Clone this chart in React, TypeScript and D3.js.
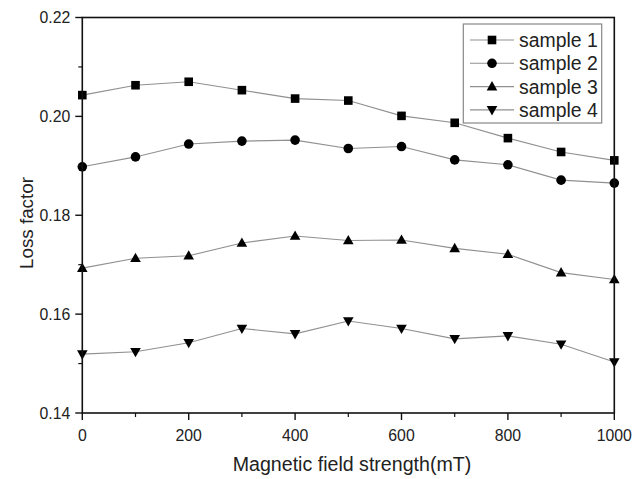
import React from "react";
import * as d3 from "d3";

const xValues = [0, 100, 200, 300, 400, 500, 600, 700, 800, 900, 1000];
const sample1 = [0.2043, 0.2063, 0.207, 0.2053, 0.2036, 0.2032, 0.2001, 0.1987, 0.1956, 0.1928, 0.1911];
const sample2 = [0.1898, 0.1918, 0.1944, 0.195, 0.1952, 0.1935, 0.1939, 0.1912, 0.1902, 0.1871, 0.1865];
const sample3 = [0.1693, 0.1713, 0.1718, 0.1744, 0.1758, 0.1749, 0.175, 0.1733, 0.1721, 0.1684, 0.167];
const sample4 = [0.1519, 0.1524, 0.1542, 0.1571, 0.156, 0.1586, 0.1571, 0.155, 0.1556, 0.1539, 0.1503];
const seriesNames = ["sample 1", "sample 2", "sample 3", "sample 4"];
const seriesSymbols = ["square", "circle", "triangle", "triangleDown"];
const xTicks = [0, 200, 400, 600, 800, 1000];
const xMinorTicks = [100, 300, 500, 700, 900];
const yTicks = [0.14, 0.16, 0.18, 0.2, 0.22];
const yMinorTicks = [0.15, 0.17, 0.19, 0.21];

const W = 632;
const H = 479;
const L = 82.3, R = 614.3, T = 17.5, B = 413;
const FONT = "'Liberation Sans', Arial, sans-serif";

function Marker({ kind, x, y }: { kind: string; x: number; y: number }) {
  if (kind === "square") return <rect x={x - 4.3} y={y - 4.3} width={8.6} height={8.6} fill="#000" />;
  if (kind === "circle") return <circle cx={x} cy={y} r={4.8} fill="#000" />;
  if (kind === "triangle")
    return <path d={`M${x},${y - 5.5}L${x + 5.3},${y + 3.8}L${x - 5.3},${y + 3.8}Z`} fill="#000" />;
  return <path d={`M${x},${y + 5.5}L${x + 5.3},${y - 3.8}L${x - 5.3},${y - 3.8}Z`} fill="#000" />;
}

export default function App() {
  const x = d3.scaleLinear().domain([0, 1000]).range([L, R]);
  const y = d3.scaleLinear().domain([0.14, 0.22]).range([B, T]);
  const data = [sample1, sample2, sample3, sample4];
  const line = d3
    .line<number>()
    .x((_, i) => x(xValues[i]))
    .y((d) => y(d));

  const legX = 463.3, legY = 24, legW = 138.4, legH = 99;
  const rowY = (i: number) => 40 + i * 23.3;

  return (
    <div style={{ position: "absolute", left: 0, top: 0 }}>
      <svg width={W} height={H} style={{ display: "block", background: "#fff" }}>
        <rect width={W} height={H} fill="#fff" />
        {data.map((s, k) => (
          <path key={"l" + k} d={line(s) || ""} fill="none" stroke="#909090" strokeWidth={1.1} />
        ))}
        {data.map((s, k) =>
          s.map((v, i) => <Marker key={`m${k}-${i}`} kind={seriesSymbols[k]} x={x(xValues[i])} y={y(v)} />)
        )}
        <rect x={L} y={T} width={R - L} height={B - T} fill="none" stroke="#111" strokeWidth={1.6} />
        {yTicks.map((t) => (
          <g key={"yt" + t}>
            <line x1={L - 7} x2={L} y1={y(t)} y2={y(t)} stroke="#111" strokeWidth={1.4} />
            <text x={L - 12} y={y(t)} dy="0.36em" textAnchor="end" fontFamily={FONT} fontSize={15.8} fill="#222">
              {d3.format(".2f")(t)}
            </text>
          </g>
        ))}
        {yMinorTicks.map((t) => (
          <line key={"ym" + t} x1={L - 4} x2={L} y1={y(t)} y2={y(t)} stroke="#111" strokeWidth={1.2} />
        ))}
        {xTicks.map((t) => (
          <g key={"xt" + t}>
            <line x1={x(t)} x2={x(t)} y1={B} y2={B + 7} stroke="#111" strokeWidth={1.4} />
            <text x={x(t)} y={441} textAnchor="middle" fontFamily={FONT} fontSize={15.8} fill="#222">
              {t}
            </text>
          </g>
        ))}
        {xMinorTicks.map((t) => (
          <line key={"xm" + t} x1={x(t)} x2={x(t)} y1={B} y2={B + 4} stroke="#111" strokeWidth={1.2} />
        ))}
        <text x={352} y={471} textAnchor="middle" fontFamily={FONT} fontSize={19.6} fill="#222">
          Magnetic field strength(mT)
        </text>
        <text
          transform={`translate(33,223) rotate(-90)`}
          textAnchor="middle"
          fontFamily={FONT}
          fontSize={18.8}
          fill="#222"
        >
          Loss factor
        </text>
        <rect x={legX} y={legY} width={legW} height={legH} fill="#fff" stroke="#888" strokeWidth={1.2} />
        {seriesNames.map((n, i) => (
          <g key={"lg" + i}>
            <line x1={470} x2={514} y1={rowY(i)} y2={rowY(i)} stroke="#909090" strokeWidth={1.1} />
            <Marker kind={seriesSymbols[i]} x={492} y={rowY(i)} />
            <text x={519} y={rowY(i)} dy="0.36em" fontFamily={FONT} fontSize={19.4} fill="#222">
              {n}
            </text>
          </g>
        ))}
      </svg>
    </div>
  );
}
